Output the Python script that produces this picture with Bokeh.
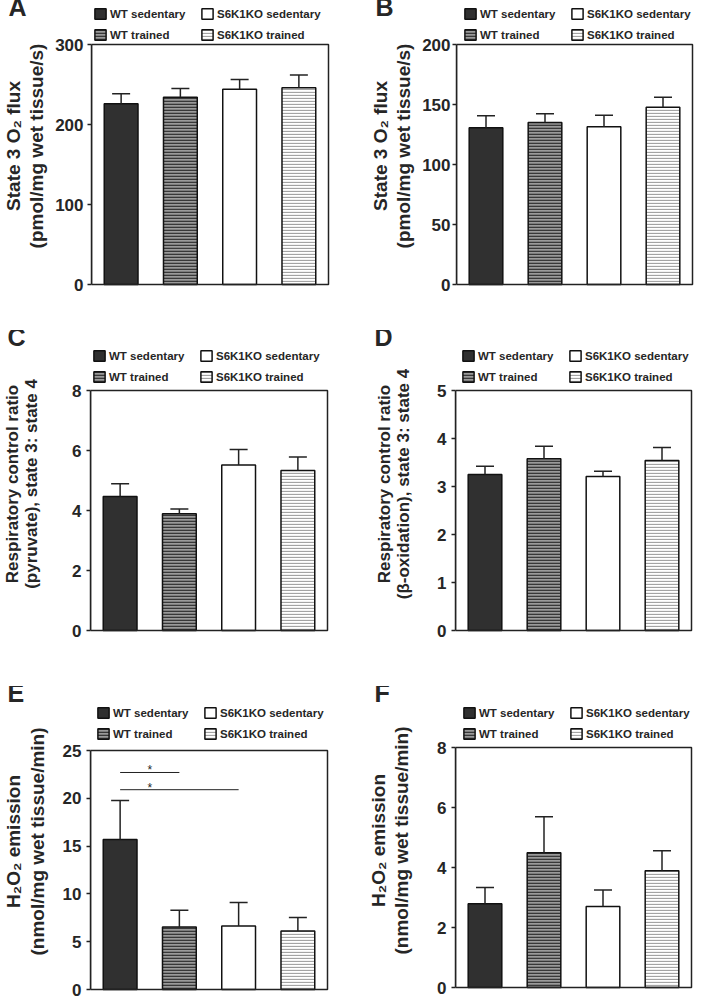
from bokeh.plotting import figure
from bokeh.models import (ColumnDataSource, Legend, LegendItem, Whisker, TeeHead,
                          FixedTicker, Range1d, Title, BoxAnnotation)
from bokeh.layouts import column, row
from bokeh.embed import file_html
from bokeh.resources import INLINE
from bokeh.core.properties import value

groups = ["WT sedentary", "WT trained", "S6K1KO sedentary", "S6K1KO trained"]

# Panel A: State 3 O2 flux
a_mean = [226, 234, 244, 246]
a_err = [12.5, 11, 12.3, 16]
a_ticks = [0, 100, 200, 300]

# Panel B: State 3 O2 flux
b_mean = [130.6, 135, 131.4, 147.8]
b_err = [10, 7.2, 9.7, 8.3]
b_ticks = [0, 50, 100, 150, 200]

# Panel C: RCR (pyruvate)
c_mean = [4.47, 3.89, 5.52, 5.33]
c_err = [0.42, 0.16, 0.51, 0.45]
c_ticks = [0, 2, 4, 6, 8]

# Panel D: RCR (beta-oxidation)
d_mean = [3.25, 3.58, 3.21, 3.54]
d_err = [0.17, 0.26, 0.11, 0.27]
d_ticks = [0, 1, 2, 3, 4, 5]

# Panel E: H2O2 emission
e_mean = [15.7, 6.54, 6.65, 6.12]
e_err = [4.06, 1.74, 2.44, 1.40]
e_ticks = [0, 5, 10, 15, 20, 25]
e_sig_from = [0, 0]
e_sig_to = [1, 2]
e_sig_level = [22.7, 20.9]
e_star_x = [1.0, 1.0]

# Panel F: H2O2 emission
f_mean = [2.79, 4.49, 2.70, 3.89]
f_err = [0.54, 1.20, 0.55, 0.67]
f_ticks = [0, 2, 4, 6, 8]

FONT = "Liberation Sans"
TXT = "#262626"
EDGE = "#222222"

styles = [
    dict(fill_color="#303030"),
    dict(fill_color="#9a9a9a", hatch_pattern="horizontal_line", hatch_color="#383838",
         hatch_scale=3, hatch_weight=1.6),
    dict(fill_color="white"),
    dict(fill_color="white", hatch_pattern="horizontal_line", hatch_color="#a4a4a4",
         hatch_scale=3, hatch_weight=1.3),
]


def make_panel(letter, means, errs, ticks, ylabel, cfg, sig=None):
    ymax = ticks[-1]
    n = len(groups)
    box_w, box_h = cfg["bw"], cfg["bh"]
    pad_r, pad_b, top_px = 2, 2, cfg["tp"]
    # ranges: the box (0..n, 0..ymax) sits inside a slightly larger frame
    x_hi = n * (box_w + pad_r) / box_w
    y_lo = -ymax * pad_b / box_h
    y_hi = ymax * (box_h + top_px) / box_h
    p = figure(output_backend="svg", toolbar_location=None, tools="",
               frame_width=box_w + pad_r, frame_height=box_h + pad_b + top_px,
               min_border_left=cfg["bl"], min_border_right=cfg["br"],
               min_border_top=0, min_border_bottom=cfg["bb"],
               x_range=Range1d(0, x_hi), y_range=Range1d(y_lo, y_hi),
               x_axis_location=None)
    p.grid.visible = False
    p.outline_line_color = None
    p.background_fill_color = "white"
    p.border_fill_color = "white"

    ax = p.yaxis[0]
    ax.bounds = (0, ymax)
    ax.ticker = FixedTicker(ticks=ticks)
    ax.axis_line_color = EDGE
    ax.axis_line_width = 1.5
    ax.major_tick_line_color = EDGE
    ax.major_tick_line_width = 1.5
    ax.major_tick_in = 0
    ax.major_tick_out = 4
    ax.minor_tick_line_color = None
    ax.major_label_text_font = FONT
    ax.major_label_text_font_style = "bold"
    ax.major_label_text_font_size = "17px"
    ax.major_label_text_color = TXT
    ax.major_label_standoff = cfg["ts"]
    ax.axis_label = ylabel
    ax.axis_label_text_font = FONT
    ax.axis_label_text_font_style = "bold"
    ax.axis_label_text_font_size = cfg["ls"]
    ax.axis_label_text_color = TXT
    ax.axis_label_text_line_height = cfg["lh"]
    ax.axis_label_standoff = cfg["las"]

    xs = [i + 0.5 for i in range(n)]
    items = []
    for i, g in enumerate(groups):
        src = ColumnDataSource(dict(x=[xs[i]], top=[means[i]]))
        r = p.vbar(x="x", top="top", bottom=0, width=0.57, source=src,
                   line_color="#111111", line_width=1.5, **styles[i])
        items.append(LegendItem(label=g, renderers=[r]))

    wsrc = ColumnDataSource(dict(base=xs, lower=means,
                                 upper=[m + e for m, e in zip(means, errs)]))
    wh = Whisker(base="base", lower="lower", upper="upper", source=wsrc,
                 dimension="height", line_color=EDGE, line_width=1.5,
                 upper_head=TeeHead(size=18, line_color=EDGE, line_width=1.5),
                 lower_head=None, level="glyph")
    p.add_layout(wh)

    if sig is not None:
        s_from, s_to, s_lvl, s_x = sig
        p.segment(x0=[xs[i] for i in s_from], x1=[xs[j] for j in s_to],
                  y0=s_lvl, y1=s_lvl, line_color=EDGE, line_width=1)
        p.text(x=s_x, y=s_lvl, text=["*"] * len(s_x), text_align="center",
               text_baseline="alphabetic", y_offset=-2,
               text_font=value(FONT), text_font_size="12px", text_color=TXT)

    # plot box (0..n x 0..ymax)
    p.add_layout(BoxAnnotation(left=0, right=n, bottom=0, top=ymax,
                               fill_color=None, fill_alpha=0,
                               line_color=EDGE, line_width=1.5, line_alpha=1.0))

    leg = Legend(items=items, location=(cfg["lx"], pad_b + box_h + cfg["lg"]),
                 orientation="vertical", ncols=2,
                 label_text_font=FONT, label_text_font_style="bold",
                 label_text_font_size="11.5px", label_text_color=TXT,
                 label_standoff=3, label_height=13, label_width=82,
                 glyph_width=14, glyph_height=13, spacing=8,
                 padding=0, margin=0, border_line_color=None,
                 background_fill_alpha=0)
    p.add_layout(leg, "center")

    # panel letter: an empty first line pushes the letter down a little
    t = Title(text="\n" + letter, align="left", vertical_align="top",
              offset=cfg["to"], text_font=FONT, text_font_style="bold",
              text_font_size="25px", text_color=TXT, text_line_height=0.38)
    try:
        t.standoff = -36
    except Exception:
        t.standoff = 0
    p.add_layout(t, "above")
    return p


# bw/bh: plot box size in px; tp: space above the box (legend area)
cfgA = dict(bw=237, bh=240, tp=39, bl=83, br=20, bb=44, ts=4, ls="19px", lh=1.1, las=5,
            lx=2, lg=3, to=-83)
cfgB = dict(bw=236, bh=240, tp=39, bl=106, br=0, bb=44, ts=2, ls="19px", lh=1.1, las=5,
            lx=7, lg=3, to=-81)
cfgC = dict(bw=237, bh=240, tp=55, bl=83, br=20, bb=54, ts=5, ls="17px", lh=1.0, las=28,
            lx=2, lg=7, to=-83)
cfgD = dict(bw=236, bh=240, tp=55, bl=106, br=0, bb=54, ts=5, ls="17px", lh=1.0, las=21,
            lx=6, lg=7, to=-81)
cfgE = dict(bw=237, bh=239, tp=59, bl=83, br=20, bb=6, ts=5, ls="19px", lh=1.1, las=12,
            lx=6, lg=10, to=-83)
cfgF = dict(bw=236, bh=240, tp=56, bl=106, br=0, bb=8, ts=5, ls="19px", lh=1.1, las=22,
            lx=7, lg=7, to=-81)

lab_o2 = "State 3 O\u2082 flux\n(pmol/mg wet tissue/s)"
lab_c = "Respiratory control ratio\n(pyruvate), state 3: state 4"
lab_d = "Respiratory control ratio\n(\u03b2-oxidation), state 3: state 4"
lab_h = "H\u2082O\u2082 emission\n(nmol/mg wet tissue/min)"

pA = make_panel("A", a_mean, a_err, a_ticks, lab_o2, cfgA)
pB = make_panel("B", b_mean, b_err, b_ticks, lab_o2, cfgB)
pC = make_panel("C", c_mean, c_err, c_ticks, lab_c, cfgC)
pD = make_panel("D", d_mean, d_err, d_ticks, lab_d, cfgD)
pE = make_panel("E", e_mean, e_err, e_ticks, lab_h, cfgE,
                sig=(e_sig_from, e_sig_to, e_sig_level, e_star_x))
pF = make_panel("F", f_mean, f_err, f_ticks, lab_h, cfgF)

layout = column(row(pA, pB), row(pC, pD), row(pE, pF))

open("out.html", "w").write(file_html(layout, INLINE))
